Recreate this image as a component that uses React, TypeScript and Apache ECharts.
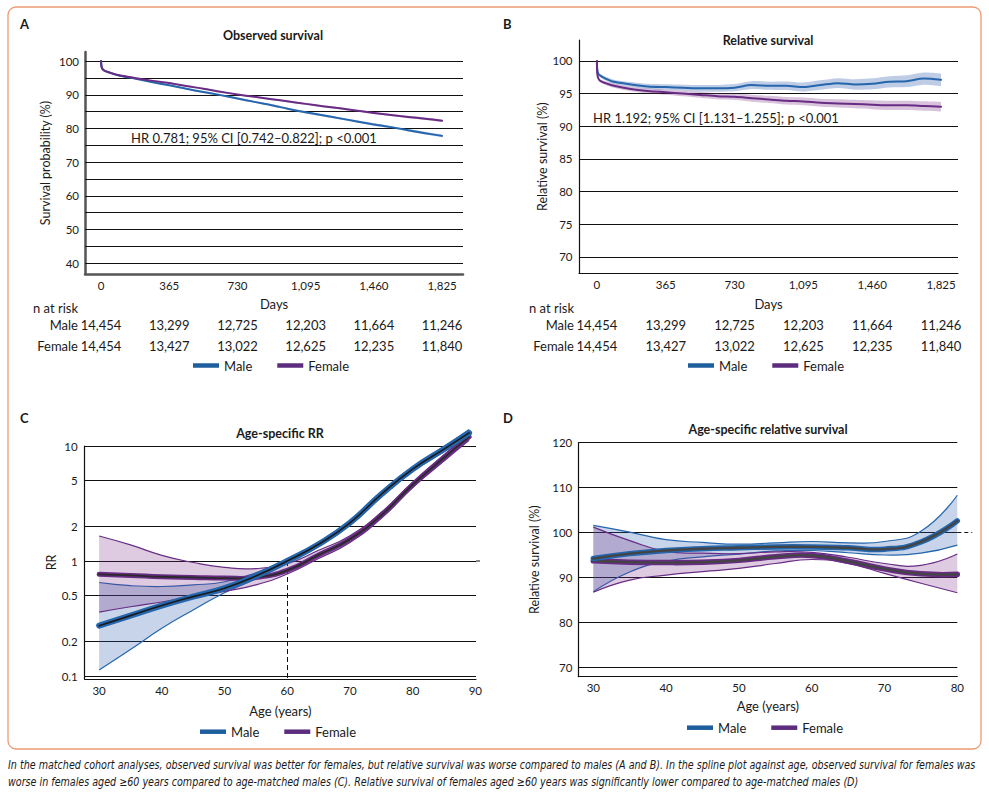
import React, { useEffect, useRef } from "react";
import * as echarts from "echarts";

// ---------------- Data ----------------
// Panels A & B (days since diagnosis)
const dayTicks = [0, 365, 730, 1095, 1460, 1825];
const days = [0, 2, 8, 20, 45, 90, 180, 270, 365, 456, 548, 639, 730, 821, 913, 1004, 1095, 1186, 1278, 1369, 1460, 1551, 1643, 1734, 1825];
const observedMale = [100, 98.5, 97.6, 97.1, 96.6, 95.8, 94.8, 93.8, 92.8, 91.8, 90.8, 89.9, 88.9, 87.9, 86.9, 85.8, 84.8, 83.9, 83.0, 82.1, 81.2, 80.4, 79.5, 78.6, 77.8];
const observedFemale = [100, 98.5, 97.6, 97.1, 96.6, 95.9, 95.0, 94.2, 93.5, 92.6, 91.8, 90.9, 90.1, 89.4, 88.7, 88.0, 87.3, 86.6, 86.0, 85.3, 84.6, 84.0, 83.4, 82.9, 82.3];
const observedMaleHalfCI = [0, 0.05, 0.08, 0.1, 0.12, 0.15, 0.18, 0.2, 0.22, 0.24, 0.26, 0.27, 0.28, 0.29, 0.3, 0.31, 0.32, 0.33, 0.34, 0.35, 0.36, 0.37, 0.38, 0.39, 0.4];
const observedFemaleHalfCI = [0, 0.05, 0.07, 0.09, 0.11, 0.13, 0.15, 0.17, 0.19, 0.21, 0.22, 0.23, 0.24, 0.25, 0.26, 0.27, 0.28, 0.29, 0.3, 0.31, 0.32, 0.33, 0.34, 0.35, 0.36];
const relativeMale = [100, 98.7, 98.0, 97.7, 97.3, 96.8, 96.4, 96.1, 96.0, 95.9, 95.8, 95.8, 95.9, 96.3, 96.2, 96.2, 96.0, 96.3, 96.6, 96.4, 96.5, 96.8, 96.9, 97.3, 97.1];
const relativeFemale = [100, 98.0, 97.3, 96.9, 96.6, 96.2, 95.7, 95.4, 95.2, 95.0, 94.8, 94.6, 94.5, 94.3, 94.1, 93.9, 93.8, 93.6, 93.5, 93.4, 93.3, 93.2, 93.2, 93.1, 93.0];
const relativeMaleHalfCI = [0, 0.1, 0.2, 0.25, 0.3, 0.33, 0.37, 0.4, 0.43, 0.46, 0.5, 0.53, 0.56, 0.6, 0.63, 0.66, 0.7, 0.73, 0.76, 0.8, 0.83, 0.86, 0.9, 0.93, 0.96];
const relativeFemaleHalfCI = [0, 0.1, 0.18, 0.22, 0.27, 0.3, 0.33, 0.36, 0.39, 0.42, 0.45, 0.48, 0.5, 0.53, 0.55, 0.58, 0.6, 0.62, 0.64, 0.66, 0.68, 0.7, 0.72, 0.74, 0.76];
const riskMale = [14454, 13299, 12725, 12203, 11664, 11246];
const riskFemale = [14454, 13427, 13022, 12625, 12235, 11840];
const gridValuesA = [40, 45, 50, 55, 60, 65, 70, 75, 80, 85, 90, 95, 100];
const labelValuesA = [40, 50, 60, 70, 80, 90, 100];
const gridValuesB = [70, 75, 80, 85, 90, 95, 100];

// Panel C (age-specific RR, log scale)
const agesC = [30, 35, 40, 45, 50, 55, 60, 65, 70, 75, 80, 85, 89];
const ageTicksC = [30, 40, 50, 60, 70, 80, 90];
const rrTicks = [0.1, 0.2, 0.5, 1, 2, 5, 10];
const rrMale = [0.274, 0.335, 0.41, 0.49, 0.58, 0.74, 1.0, 1.4, 2.15, 3.8, 6.3, 9.4, 13.0];
const rrMaleLow = [0.113, 0.17, 0.26, 0.375, 0.53, 0.7, 0.96, 1.34, 2.05, 3.6, 6.0, 8.9, 12.2];
const rrMaleHigh = [0.65, 0.61, 0.6, 0.62, 0.66, 0.79, 1.04, 1.46, 2.25, 4.0, 6.6, 9.9, 13.9];
const rrFemale = [0.766, 0.75, 0.73, 0.72, 0.71, 0.72, 0.83, 1.13, 1.55, 2.5, 4.6, 7.9, 12.0];
const rrFemaleLow = [0.36, 0.4, 0.44, 0.49, 0.545, 0.62, 0.77, 1.05, 1.45, 2.35, 4.35, 7.4, 11.2];
const rrFemaleHigh = [1.65, 1.38, 1.12, 0.97, 0.88, 0.86, 0.95, 1.24, 1.66, 2.65, 4.85, 8.4, 12.8];

// Panel D (age-specific relative survival)
const agesD = [30, 35, 40, 45, 50, 55, 60, 65, 70, 75, 80];
const ageTicksD = [30, 40, 50, 60, 70, 80];
const rsTicksD = [70, 80, 90, 100, 110, 120];
const rsMale = [94.2, 95.3, 96.0, 96.4, 96.6, 96.8, 96.8, 96.6, 96.3, 97.9, 102.6];
const rsMaleLow = [86.8, 91.2, 93.6, 94.6, 95.2, 95.9, 96.0, 95.5, 95.0, 95.4, 97.2];
const rsMaleHigh = [101.6, 100.1, 98.4, 97.8, 97.4, 97.7, 98.0, 97.7, 98.0, 100.3, 108.3];
const rsFemale = [93.7, 93.4, 93.3, 93.4, 93.8, 94.6, 94.9, 93.6, 91.9, 90.8, 90.7];
const rsFemaleLow = [86.7, 89.4, 90.5, 91.3, 92.0, 93.1, 94.0, 93.1, 90.9, 88.7, 86.6];
const rsFemaleHigh = [101.2, 98.2, 95.8, 95.4, 95.3, 95.7, 95.6, 94.5, 93.1, 92.7, 95.2];

const captionLines = [
  "In the matched cohort analyses, observed survival was better for females, but relative survival was worse compared to males (A and B). In the spline plot against age, observed survival for females was",
  "worse in females aged \u226560 years compared to age-matched males (C). Relative survival of females aged \u226560 years was significantly lower compared to age-matched males (D)",
];

// ---------------- Styles ----------------
const FONT = "Lato, 'Open Sans', 'DejaVu Sans', sans-serif";
const CAPTION_FONT = "'Liberation Sans Narrow', 'DejaVu Sans Condensed', 'Liberation Sans', sans-serif";
const INK = "#1a1a1a";
const MALE = "#2566ad";
const FEMALE = "#682c84";
const MALE_LEG = "#1e5e9c";
const FEMALE_LEG = "#5c2d7f";
const MALE_BAND = "rgba(40,90,170,0.26)";
const FEMALE_BAND = "rgba(120,40,130,0.245)";
const MALE_BAND_LIGHT = "rgba(40,90,170,0.3)";
const FEMALE_BAND_LIGHT = "rgba(120,40,130,0.28)";

// ---------------- Helpers ----------------
function traceSmooth(ctx: any, pts: number[][], smooth: number, move: boolean) {
  const n = pts.length;
  if (move) ctx.moveTo(pts[0][0], pts[0][1]);
  else ctx.lineTo(pts[0][0], pts[0][1]);
  if (smooth <= 0) {
    for (let i = 1; i < n; i++) ctx.lineTo(pts[i][0], pts[i][1]);
    return;
  }
  let c0x = pts[0][0];
  let c0y = pts[0][1];
  for (let i = 1; i < n; i++) {
    const x = pts[i][0];
    const y = pts[i][1];
    let c1x = x, c1y = y, nx = x, ny = y;
    if (i < n - 1) {
      const p = pts[i - 1];
      const q = pts[i + 1];
      const vx = q[0] - p[0];
      const vy = q[1] - p[1];
      const d0 = Math.hypot(x - p[0], y - p[1]);
      const d1 = Math.hypot(q[0] - x, q[1] - y);
      const r = d0 + d1 > 0 ? d1 / (d0 + d1) : 0.5;
      c1x = x - vx * smooth * (1 - r);
      c1y = y - vy * smooth * (1 - r);
      nx = x + vx * smooth * r;
      ny = y + vy * smooth * r;
    }
    ctx.bezierCurveTo(c0x, c0y, c1x, c1y, x, y);
    c0x = nx;
    c0y = ny;
  }
}

echarts.graphic.registerShape(
  "ciPath",
  (echarts.graphic as any).extendShape({
    shape: { up: [], lo: [], smooth: 0, closed: 1 },
    buildPath(ctx: any, shape: any) {
      const up = shape.up;
      const lo = shape.lo;
      if (!up || up.length < 2) return;
      traceSmooth(ctx, up, shape.smooth, true);
      if (shape.closed && lo && lo.length) {
        traceSmooth(ctx, lo.slice().reverse(), shape.smooth, false);
        ctx.closePath();
      }
    },
  })
);

const pairs = (xs: number[], ys: number[]) => xs.map((x, i) => [x, ys[i]]);
const minus = (a: number[], b: number[]) => a.map((v, i) => +(v - b[i]).toFixed(3));
const plus = (a: number[], b: number[]) => a.map((v, i) => +(v + b[i]).toFixed(3));
const fmt = (v: number) => v.toLocaleString("en-US");

function band(id: string, axis: number, xs: number[], lo: number[], hi: number[], fill: string, edge: string | null, edgeW: number, smooth: number) {
  return {
    type: "custom",
    id,
    name: id,
    xAxisIndex: axis,
    yAxisIndex: axis,
    z: 2,
    silent: true,
    data: xs.map((x, i) => [x, lo[i], hi[i]]),
    encode: { x: 0, y: [1, 2] },
    renderItem: (params: any, api: any) => {
      if (params.dataIndex !== 0) return null;
      const up = xs.map((x, i) => api.coord([x, hi[i]]));
      const dn = xs.map((x, i) => api.coord([x, lo[i]]));
      const children: any[] = [
        { type: "ciPath", shape: { up, lo: dn, smooth, closed: 1 }, style: { fill, stroke: "none" } },
      ];
      if (edge) {
        children.push({ type: "ciPath", shape: { up, lo: [], smooth, closed: 0 }, style: { fill: "none", stroke: edge, lineWidth: edgeW } });
        children.push({ type: "ciPath", shape: { up: dn, lo: [], smooth, closed: 0 }, style: { fill: "none", stroke: edge, lineWidth: edgeW } });
      }
      return { type: "group", children };
    },
  };
}

// spline fit line drawn as custom series (same smoothing as the CI bands)
function fit(name: string, axis: number, xs: number[], ys: number[], color: string, width: number, z: number, extra: any = {}) {
  return {
    type: "custom",
    name,
    xAxisIndex: axis,
    yAxisIndex: axis,
    z,
    silent: true,
    itemStyle: { color },
    data: pairs(xs, ys),
    encode: { x: 0, y: 1 },
    renderItem: (params: any, api: any) => {
      if (params.dataIndex !== 0) return null;
      const pts = xs.map((x, i) => api.coord([x, ys[i]]));
      return {
        type: "ciPath",
        shape: { up: pts, lo: [], smooth: 0.5, closed: 0 },
        style: { fill: "none", stroke: color, lineWidth: width, lineCap: "round", lineJoin: "round" },
      };
    },
    ...extra,
  };
}

function line(name: string, axis: number, xs: number[], ys: number[], color: string, width: number, smooth: number, z: number, extra: any = {}) {
  return {
    type: "line",
    name,
    xAxisIndex: axis,
    yAxisIndex: axis,
    data: pairs(xs, ys),
    symbol: "none",
    smooth,
    clip: false,
    silent: true,
    z,
    lineStyle: { color, width, cap: "round", join: "round" },
    itemStyle: { color },
    ...extra,
  };
}

function gridLines(values: number[], extra: any[] = []) {
  return {
    silent: true,
    symbol: ["none", "none"],
    z: 1,
    animation: false,
    label: { show: false },
    emphasis: { disabled: true },
    lineStyle: { color: "#111", width: 1, type: "solid" },
    data: [...values.map((v) => ({ yAxis: v })), ...extra],
  };
}

const tickLabel = { fontFamily: FONT, fontSize: 11.5, color: INK };
const nameStyle = { fontFamily: FONT, fontSize: 13, color: INK };

function valueX(grid: number, min: number, max: number, ticks: number[], name: string, nameGap: number, axisLine: any, fmtFn?: (v: number) => string) {
  return {
    type: "value",
    gridIndex: grid,
    min,
    max,
    name,
    nameLocation: "middle",
    nameGap,
    nameTextStyle: nameStyle,
    axisLine: { show: true, onZero: false, lineStyle: axisLine },
    axisTick: { show: false },
    splitLine: { show: false },
    axisLabel: { ...tickLabel, margin: 5, customValues: ticks, formatter: fmtFn || ((v: number) => String(v)) },
  };
}

function riskAxis(grid: number, min: number, max: number, offset: number, values: number[]) {
  return {
    type: "value",
    gridIndex: grid,
    position: "bottom",
    offset,
    min,
    max,
    axisLine: { show: false },
    axisTick: { show: false },
    splitLine: { show: false },
    axisLabel: {
      fontFamily: FONT,
      fontSize: 13,
      color: INK,
      margin: 0,
      customValues: dayTicks,
      formatter: (v: number) => {
        const i = dayTicks.indexOf(Math.round(v));
        return i >= 0 ? fmt(values[i]) : "";
      },
    },
  };
}

function valueY(grid: number, type: string, min: number, max: number, ticks: number[], name: string, nameGap: number, axisLine: any, margin: number) {
  return {
    type,
    gridIndex: grid,
    min,
    max,
    name,
    nameLocation: "middle",
    nameGap,
    nameTextStyle: { ...nameStyle, fontSize: 12.5 },
    axisLine: { show: true, onZero: false, lineStyle: axisLine },
    axisTick: { show: false },
    splitLine: { show: false },
    axisLabel: {
      ...tickLabel,
      margin,
      customValues: ticks,
      formatter: (v: number) => String(Math.round(v * 100) / 100),
    },
  };
}

function legend(left: number, top: number) {
  return {
    left,
    top,
    padding: 0,
    orient: "horizontal",
    icon: "rect",
    itemWidth: 26,
    itemHeight: 4.5,
    itemGap: 25,
    selectedMode: false,
    itemStyle: { borderWidth: 0 },
    textStyle: { fontFamily: FONT, fontSize: 13, color: INK },
    data: [
      { name: "Male", itemStyle: { color: MALE_LEG, borderWidth: 0 } },
      { name: "Female", itemStyle: { color: FEMALE_LEG, borderWidth: 0 } },
    ],
  };
}

function text(id: string, x: number, y: number, t: string, o: any = {}) {
  return {
    type: "text",
    id,
    x,
    y,
    scaleX: o.scaleX || 1,
    silent: true,
    style: {
      text: t,
      fill: o.fill || INK,
      fontFamily: o.family || FONT,
      fontSize: o.size || 13,
      fontWeight: o.weight || "normal",
      fontStyle: o.style || "normal",
      align: o.align || "left",
      verticalAlign: "middle",
    },
  };
}

function measure(t: string, font: string): number {
  try {
    const c = document.createElement("canvas").getContext("2d");
    if (!c) return 0;
    c.font = font;
    return c.measureText(t).width;
  } catch (e) {
    return 0;
  }
}

// axis ranges
const X_A: [number, number] = [-86, 1937];
const X_B: [number, number] = [-95, 1915];
const X_C: [number, number] = [27.7, 90.1];
const X_D: [number, number] = [27.94, 80];
const Y_A: [number, number] = [36.8, 102.7];
const Y_B: [number, number] = [67.5, 103.2];
const Y_C: [number, number] = [0.0942, 10];
const Y_D: [number, number] = [67.9, 120];

export default function App() {
  const ref = useRef<HTMLDivElement>(null);

  useEffect(() => {
    document.body.style.margin = "0";
    if (!ref.current) return;
    const chart = echarts.init(ref.current, undefined, { renderer: "svg" });

    const thick = { color: "#555", width: 2.5 };
    const thin = { color: "#111", width: 1.2 };

    const capSize = 12;
    const capWidth = measure(captionLines[0], `italic ${capSize}px ${CAPTION_FONT}`);
    const capScale = capWidth > 0 ? Math.min(1, 969 / capWidth) : 0.85;

    const option: any = {
      animation: false,
      textStyle: { fontFamily: FONT },
      grid: [
        { left: 85, top: 52, width: 378, height: 222, containLabel: false, outerBoundsMode: "none" },
        { left: 579, top: 40, width: 379, height: 233.3, containLabel: false, outerBoundsMode: "none" },
        { left: 84.7, top: 446, width: 391.3, height: 233, containLabel: false, outerBoundsMode: "none" },
        { left: 578.3, top: 442.7, width: 379, height: 234, containLabel: false, outerBoundsMode: "none" },
      ],
      xAxis: [
        valueX(0, X_A[0], X_A[1], dayTicks, "Days", 23, thick, fmt),
        valueX(1, X_B[0], X_B[1], dayTicks, "Days", 24, thin, fmt),
        valueX(2, X_C[0], X_C[1], ageTicksC, "Age (years)", 25, thin),
        valueX(3, X_D[0], X_D[1], ageTicksD, "Age (years)", 23, thin),
        riskAxis(0, X_A[0], X_A[1], 44.5, riskMale),
        riskAxis(0, X_A[0], X_A[1], 65.5, riskFemale),
        riskAxis(1, X_B[0], X_B[1], 45, riskMale),
        riskAxis(1, X_B[0], X_B[1], 66, riskFemale),
      ],
      yAxis: [
        valueY(0, "value", Y_A[0], Y_A[1], labelValuesA, "Survival probability (%)", 33, thick, 6),
        valueY(1, "value", Y_B[0], Y_B[1], gridValuesB, "Relative survival (%)", 30, thin, 6.5),
        { ...valueY(2, "log", Y_C[0], Y_C[1], rrTicks, "RR", 26, thin, 7), logBase: 10 },
        valueY(3, "value", Y_D[0], Y_D[1], rsTicksD, "Relative survival (%)", 37, thin, 6),
      ],
      legend: [legend(193, 359), legend(688, 359), legend(200, 725.2), legend(687, 721.2)],
      series: [
        // Panel A
        band("bandAm", 0, days, minus(observedMale, observedMaleHalfCI), plus(observedMale, observedMaleHalfCI), MALE_BAND_LIGHT, null, 0, 0.3),
        band("bandAf", 0, days, minus(observedFemale, observedFemaleHalfCI), plus(observedFemale, observedFemaleHalfCI), FEMALE_BAND_LIGHT, null, 0, 0.3),
        line("Male", 0, days, observedMale, MALE, 2, 0.3, 3, { markLine: gridLines(gridValuesA) }),
        line("Female", 0, days, observedFemale, FEMALE, 2, 0.3, 3),
        // Panel B
        band("bandBm", 1, days, minus(relativeMale, relativeMaleHalfCI), plus(relativeMale, relativeMaleHalfCI), MALE_BAND_LIGHT, null, 0, 0.3),
        band("bandBf", 1, days, minus(relativeFemale, relativeFemaleHalfCI), plus(relativeFemale, relativeFemaleHalfCI), FEMALE_BAND_LIGHT, null, 0, 0.3),
        line("Male", 1, days, relativeMale, MALE, 2, 0.3, 3, { markLine: gridLines(gridValuesB) }),
        line("Female", 1, days, relativeFemale, FEMALE, 2, 0.3, 3),
        // Panel C
        band("bandCm", 2, agesC, rrMaleLow, rrMaleHigh, MALE_BAND, MALE, 1.2, 0.5),
        band("bandCf", 2, agesC, rrFemaleLow, rrFemaleHigh, FEMALE_BAND, FEMALE, 1.2, 0.5),
        fit("Female", 2, agesC, rrFemale, FEMALE, 5, 4),
        fit("Female fit C", 2, agesC, rrFemale, "#2a2a2a", 1.8, 5),
        fit("Male", 2, agesC, rrMale, MALE, 6, 6),
        fit("Male fit C", 2, agesC, rrMale, "#1a1a1a", 1.6, 7),
        line("RR grid", 2, [], [], "#111", 1, 0, 1, {
          markLine: gridLines(rrTicks, [
            [
              { coord: [60, 1], lineStyle: { type: [5, 3], color: "#111", width: 1 } },
              { coord: [60, 0.0948] },
            ],
          ]),
        }),
        // Panel D
        band("bandDm", 3, agesD, rsMaleLow, rsMaleHigh, MALE_BAND, MALE, 1.2, 0.5),
        band("bandDf", 3, agesD, rsFemaleLow, rsFemaleHigh, FEMALE_BAND, FEMALE, 1.2, 0.5),
        fit("Female", 3, agesD, rsFemale, FEMALE, 5.5, 4),
        fit("Female fit D", 3, agesD, rsFemale, "#444", 2.4, 5),
        fit("Male", 3, agesD, rsMale, MALE, 5.5, 6),
        fit("Male fit D", 3, agesD, rsMale, "#444", 2.4, 7),
        line("RS grid", 3, [], [], "#111", 1, 0, 1, { markLine: gridLines(rsTicksD) }),
      ],
      graphic: [
        { type: "rect", id: "frame", silent: true, shape: { x: 8, y: 7, width: 973, height: 742, r: 8 }, style: { fill: "none", stroke: "#ec9a73", lineWidth: 1.3 } },
        text("lA", 20, 24, "A", { weight: "bold" }),
        text("lB", 503, 24, "B", { weight: "bold" }),
        text("lC", 20, 418, "C", { weight: "bold" }),
        text("lD", 503, 418, "D", { weight: "bold" }),
        text("tA", 273, 35, "Observed survival", { weight: "bold", align: "center", size: 12.5 }),
        text("tB", 768, 40, "Relative survival", { weight: "bold", align: "center", size: 12.5 }),
        text("tC", 280, 433, "Age-specific RR", { weight: "bold", align: "center", size: 12.5 }),
        text("tD", 768, 429, "Age-specific relative survival", { weight: "bold", align: "center", size: 12.5 }),
        text("hrA", 131, 138, "HR 0.781; 95% CI [0.742\u20130.822]; p <0.001", { size: 13 }),
        text("hrB", 593, 118, "HR 1.192; 95% CI [1.131\u20131.255]; p <0.001", { size: 13 }),
        text("nA", 33, 308, "n at risk"),
        text("mA", 78, 325, "Male", { align: "right" }),
        text("fA", 78, 346, "Female", { align: "right" }),
        text("nB", 529, 308, "n at risk"),
        text("mB", 574, 325, "Male", { align: "right" }),
        text("fB", 574, 346, "Female", { align: "right" }),
        text("cap1", 8, 765, captionLines[0], { family: CAPTION_FONT, style: "italic", size: capSize, scaleX: capScale }),
        text("cap2", 8, 782, captionLines[1], { family: CAPTION_FONT, style: "italic", size: capSize, scaleX: capScale }),
      ],
    };

    chart.setOption(option);

    // Dashed reference extensions beyond the plot edge (computed through the axes)
    const pc = chart.convertToPixel({ xAxisIndex: 2, yAxisIndex: 2 } as any, [X_C[1], 1]) as number[];
    const pd = chart.convertToPixel({ xAxisIndex: 3, yAxisIndex: 3 } as any, [X_D[1], 100]) as number[];
    const extras: any[] = [];
    if (pc && isFinite(pc[0])) {
      extras.push({ type: "line", id: "extC", silent: true, shape: { x1: pc[0], y1: pc[1], x2: pc[0] + 7, y2: pc[1] }, style: { stroke: "#111", lineWidth: 1, lineDash: [4, 3] } });
    }
    if (pd && isFinite(pd[0])) {
      extras.push({ type: "line", id: "extD", silent: true, shape: { x1: pd[0], y1: pd[1], x2: pd[0] + 15, y2: pd[1] }, style: { stroke: "#111", lineWidth: 1, lineDash: [4, 3] } });
    }
    if (extras.length) chart.setOption({ graphic: extras });

    return () => chart.dispose();
  }, []);

  return <div ref={ref} style={{ width: 989, height: 795 }} />;
}
